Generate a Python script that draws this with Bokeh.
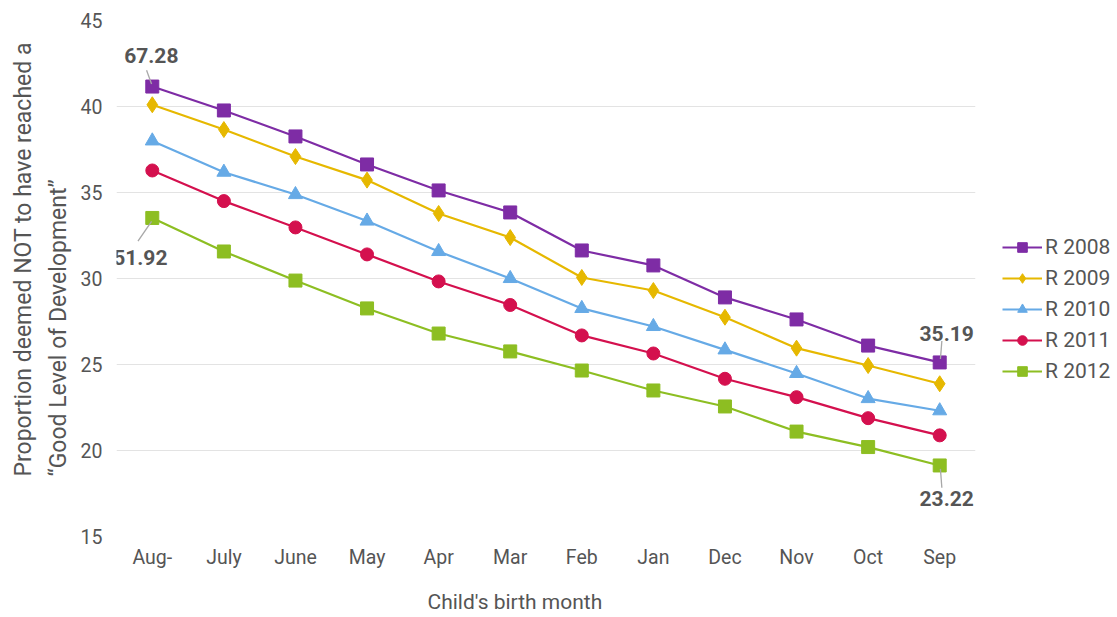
from bokeh.plotting import figure
from bokeh.models import (Legend, LegendItem, FixedTicker, Label, Range1d, Title)
from bokeh.embed import file_html
from bokeh.resources import INLINE

months = ["Aug-", "July", "June", "May", "Apr", "Mar", "Feb", "Jan", "Dec", "Nov", "Oct", "Sep"]
r2008 = [41.16, 39.77, 38.26, 36.63, 35.12, 33.84, 31.63, 30.76, 28.90, 27.62, 26.10, 25.12]
r2009 = [40.10, 38.66, 37.09, 35.72, 33.78, 32.38, 30.06, 29.30, 27.75, 25.95, 24.94, 23.88]
r2010 = [38.00, 36.18, 34.88, 33.34, 31.57, 30.00, 28.26, 27.21, 25.85, 24.48, 23.02, 22.31]
r2011 = [36.28, 34.50, 32.97, 31.40, 29.83, 28.46, 26.69, 25.64, 24.17, 23.10, 21.88, 20.88]
r2012 = [33.52, 31.57, 29.88, 28.26, 26.80, 25.76, 24.65, 23.49, 22.56, 21.10, 20.20, 19.13]
series_names = ["R 2008", "R 2009", "R 2010", "R 2011", "R 2012"]
annot_texts = ["67.28", "51.92", "35.19", "23.22"]
x_title = "Child's birth month"
y_title_1 = "Proportion deemed NOT to have reached a"
y_title_2 = "\u201cGood Level of Development\u201d"

colors = ["#7E2CA5", "#E6B800", "#66AAE6", "#D4104E", "#8DBE22"]
markers = ["square", "diamond", "triangle", "circle", "square"]
msizes = [13, 16, 14, 13, 13]
FONT = "Roboto"
TXT = "#555555"

xs = list(range(len(months)))

p = figure(frame_width=859, frame_height=516, output_backend="svg", toolbar_location=None,
           x_range=Range1d(-0.5, len(months) - 0.5), y_range=Range1d(15, 45),
           min_border_left=116, min_border_right=0, min_border_top=20, min_border_bottom=81)
p.outline_line_color = None
p.background_fill_color = "white"

items = []
for name, vals, c, m, s in zip(series_names, [r2008, r2009, r2010, r2011, r2012], colors, markers, msizes):
    l = p.line(xs, vals, line_color=c, line_width=2.2)
    sc = p.scatter(xs, vals, marker=m, size=s, fill_color=c, line_color=c)
    items.append(LegendItem(label=name, renderers=[l, sc]))

legend = Legend(items=items, location=(27, 153), label_text_font=FONT, label_text_font_size="21px",
                label_text_color=TXT, glyph_width=40, glyph_height=24, spacing=7,
                label_standoff=3, padding=0, margin=0, border_line_color=None,
                background_fill_alpha=0)
p.add_layout(legend, "right")

# axes
p.xaxis.ticker = FixedTicker(ticks=xs)
p.xaxis.major_label_overrides = {i: m for i, m in enumerate(months)}
p.xaxis.axis_line_color = None
p.xaxis.major_tick_line_color = None
p.xaxis.minor_tick_line_color = None
p.xaxis.major_label_text_font = FONT
p.xaxis.major_label_text_font_size = "19.5px"
p.xaxis.major_label_text_color = TXT
p.xaxis.major_label_standoff = 3
p.xgrid.grid_line_color = None

p.yaxis.ticker = FixedTicker(ticks=[15, 20, 25, 30, 35, 40, 45])
p.yaxis.axis_line_color = None
p.yaxis.major_tick_line_color = None
p.yaxis.minor_tick_line_color = None
p.yaxis.major_label_text_font = FONT
p.yaxis.major_label_text_font_size = "19.5px"
p.yaxis.major_label_text_color = TXT
p.yaxis.major_label_standoff = 8
p.ygrid.grid_line_color = "#e3e3e3"
p.ygrid.grid_line_width = 1

# axis titles as Title objects so they can be placed like the reference
p.add_layout(Title(text=x_title, align="left", offset=311, standoff=33, text_font=FONT,
                   text_font_size="21px", text_font_style="normal", text_color=TXT), "below")
p.add_layout(Title(text=y_title_2, align="left", offset=60, standoff=12, text_font=FONT,
                   text_font_size="23px", text_font_style="normal", text_color=TXT), "left")
p.add_layout(Title(text=y_title_1, align="left", offset=60, standoff=0, text_font=FONT,
                   text_font_size="23px", text_font_style="normal", text_color=TXT), "left")

# annotations: (series values, index, text, label offsets px, leader line offsets in data units)
last = len(months) - 1
annots = [
    (r2008, 0, annot_texts[0], -1, 31, (-0.08, 0.95), (-0.01, 0.15)),
    (r2012, 0, annot_texts[1], -12, -40, (-0.01, -0.2), (-0.2, -1.35)),
    (r2008, last, annot_texts[2], 7, 29, (0.01, 0.2), (0.03, 1.25)),
    (r2012, last, annot_texts[3], 7, -33, (0.01, -0.2), (0.03, -1.3)),
]
for vals, idx, txt, dx, dy, a, b in annots:
    v = vals[idx]
    p.segment(x0=[idx + a[0]], y0=[v + a[1]], x1=[idx + b[0]], y1=[v + b[1]],
              line_color="#a8a8a8", line_width=1.3)
    p.add_layout(Label(x=idx, y=v, x_offset=dx, y_offset=dy, text=txt, text_align="center",
                       text_baseline="middle", text_font=FONT, text_font_size="21px",
                       text_font_style="bold", text_color=TXT))

open("out.html", "w").write(file_html(p, INLINE))
